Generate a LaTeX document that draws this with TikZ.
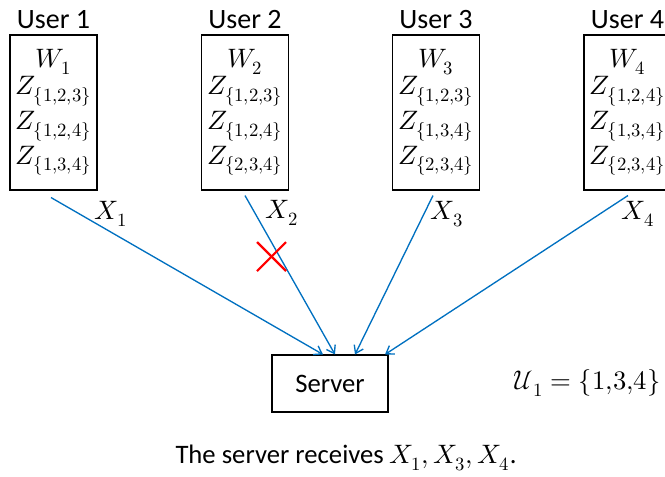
\documentclass[tikz,border=0pt]{standalone}
\usepackage{amsmath}
\usepackage{fontspec}
\usepackage{unicode-math}
\setmainfont{Carlito}
\setmathfont{Latin Modern Math}
\usetikzlibrary{positioning,arrows.meta}

\definecolor{linkblue}{RGB}{0,112,192}

\tikzset{
  userbox/.style={draw, line width=0.8pt, minimum width=65.25pt, minimum height=116.25pt,
    inner sep=0pt, align=center, font=\fontsize{20}{26}\selectfont},
  serverbox/.style={draw, line width=0.8pt, minimum width=87pt, minimum height=42.75pt,
    font=\fontsize{20}{24}\selectfont},
  send/.style={linkblue, line width=1pt, -{Straight Barb[length=5.5pt,width=7.5pt]}},
  lbl/.style={font=\fontsize{20}{24}\selectfont},
  namelbl/.style={font=\fontsize{21}{24}\selectfont}
}

\begin{document}
\begin{tikzpicture}[x=0.75pt,y=-0.75pt]
\useasboundingbox (0,0) rectangle (665,476);

% users and what they hold
\node [userbox] (u1) at (53.5,112.5) {$W_1$\\[-5.5pt]$Z_{\{1{,}2{,}3\}}$\\$Z_{\{1{,}2{,}4\}}$\\$Z_{\{1{,}3{,}4\}}$};
\node [userbox] (u2) at (245,112.5) {$W_2$\\[-5.5pt]$Z_{\{1{,}2{,}3\}}$\\$Z_{\{1{,}2{,}4\}}$\\$Z_{\{2{,}3{,}4\}}$};
\node [userbox] (u3) at (436,112.5) {$W_3$\\[-5.5pt]$Z_{\{1{,}2{,}3\}}$\\$Z_{\{1{,}3{,}4\}}$\\$Z_{\{2{,}3{,}4\}}$};
\node [userbox] (u4) at (627.5,112.5) {$W_4$\\[-5.5pt]$Z_{\{1{,}2{,}4\}}$\\$Z_{\{1{,}3{,}4\}}$\\$Z_{\{2{,}3{,}4\}}$};

\node [namelbl] (name1) [above=1pt of u1] {User 1};
\node [namelbl] (name2) [above=1pt of u2] {User 2};
\node [namelbl] (name3) [above=1pt of u3] {User 3};
\node [namelbl] (name4) [above=1pt of u4] {User 4};

% server
\node [serverbox] (srv) at (330,383.5) {Server};

% uploads
\draw [send] ([shift={(-2.5,7)}]u1.south) -- ([shift={(-7,0)}]srv.north);
\draw [send] ([shift={(0,5)}]u2.south) -- ([shift={(5,0)}]srv.north);
\draw [send] ([shift={(-3,5)}]u3.south) -- ([shift={(25,0)}]srv.north);
\draw [send] ([shift={(0.5,5)}]u4.south) -- ([shift={(55,0)}]srv.north);

\node [lbl] (x1) at (111,214) {$X_1$};
\node [lbl] (x2) at (282,213) {$X_2$};
\node [lbl] (x3) at (447,214) {$X_3$};
\node [lbl] (x4) at (638,214) {$X_4$};

% user 2 drops out
\draw [red, line width=1.6pt] (257,242)--(286,271);
\draw [red, line width=1.6pt] (257,271)--(286,242);

\node [lbl] (surv) at (587,383) {$\mathcal{U}_1=\{1{,}3{,}4\}$};

\node [lbl] (caption) at (346,458) {The server receives $X_1, X_3, X_4$.};

\end{tikzpicture}
\end{document}
